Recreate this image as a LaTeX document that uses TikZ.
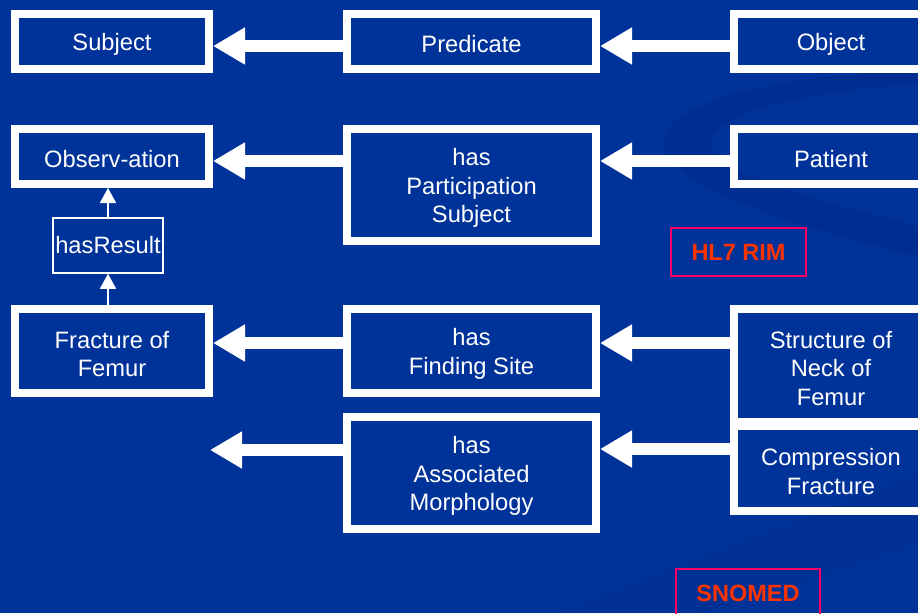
\documentclass[tikz,border=0pt]{standalone}
\usepackage{fontspec}
\setmainfont{Liberation Sans}
\usetikzlibrary{arrows.meta}
\definecolor{slidebg}{HTML}{003399}
\definecolor{swoosh}{HTML}{002C8A}
\definecolor{tagframe}{HTML}{FF0066}
\definecolor{tagtext}{HTML}{FF3300}
\begin{document}
\begin{tikzpicture}[x=1pt,y=-1pt,
  every node/.style={font=\fontsize{23.7}{28.5}\selectfont, text=white, align=center, inner sep=0pt},
  % white-framed term box; its caption sits a little below the geometric centre
  term/.style n args={3}{draw=white, line width=8pt, minimum width=#1, minimum height=#2,
                         label={[yshift=-3pt]center:{#3}}},
  relbox/.style={draw=white, line width=1.5pt, minimum width=110pt, minimum height=55pt},
  tag/.style={draw=tagframe, line width=2pt, text=tagtext, font=\fontsize{23.5}{28}\selectfont\bfseries,
              minimum width=135pt, minimum height=48pt},
  bigarrow/.style={white, line width=12pt, -{Triangle[length=32pt,width=35pt]}},
  thinarrow/.style={white, line width=1.5pt, -{Triangle[length=15pt,width=16pt]}}]

% slide background
\fill[slidebg] (0,0) rectangle (918,613);
\useasboundingbox (0,0) rectangle (918,613);

% faint swooshes on the right
\fill[swoosh, opacity=0.6]
  (930,70) .. controls (780,74) and (662,100) .. (664,145)
  .. controls (667,188) and (800,228) .. (930,260)
  -- (930,228) .. controls (810,200) and (704,170) .. (712,140)
  .. controls (722,108) and (830,88) .. (930,84) -- cycle;
\fill[swoosh, opacity=0.3]
  (560,613) -- (930,470) -- (930,540) -- (700,613) -- cycle;

% row levels for the block arrows
\coordinate (r1) at (0,46);
\coordinate (r2) at (0,161);
\coordinate (r3) at (0,343);
\coordinate (r4) at (0,450);
\coordinate (r5) at (0,449);

% triple header
\node[term={194pt}{55pt}{Subject}]   (subj) at (112,41.5) {};
\node[term={249pt}{55pt}{Predicate}] (pred) at (471.5,41.5) {};
\node[term={194pt}{55pt}{Object}]    (obj)  at (831,41.5) {};

% HL7 RIM part
\node[term={194pt}{55pt}{Observ-ation}] (obs) at (112,156.5) {};
\node[term={249pt}{112pt}{has\\Participation\\Subject}] (hps) at (471.5,185) {};
\node[term={194pt}{55pt}{Patient}] (pat) at (831,156.5) {};
\node[relbox] (res) at (108,245.5) {hasResult};
\node[tag] (hl7) at (738.5,252) {HL7 RIM};

% SNOMED part
\node[term={194pt}{84pt}{Fracture of\\Femur}] (frac) at (112,351) {};
\node[term={249pt}{84pt}{has\\Finding Site}]  (hfs)  at (471.5,351) {};
\node[term={194pt}{113pt}{Structure of\\Neck of\\Femur}] (snf) at (831,365.5) {};
\node[term={249pt}{112pt}{has\\Associated\\Morphology}] (ham) at (471.5,473) {};
\node[term={194pt}{85pt}{Compression\\Fracture}] (cf) at (831,468.5) {};
\node[tag, minimum width=144pt] (sno) at (748,593) {SNOMED};
\coordinate (loose) at (210,450);

% block arrows
\draw[bigarrow] (pred.west |- r1) -- (subj.east |- r1);
\draw[bigarrow] (obj.west |- r1)  -- (pred.east |- r1);
\draw[bigarrow] (hps.west |- r2)  -- (obs.east |- r2);
\draw[bigarrow] (pat.west |- r2)  -- (hps.east |- r2);
\draw[bigarrow] (hfs.west |- r3)  -- (frac.east |- r3);
\draw[bigarrow] (snf.west |- r3)  -- (hfs.east |- r3);
\draw[bigarrow] (ham.west |- r4)  -- (loose);
\draw[bigarrow] (cf.west |- r5)   -- (ham.east |- r5);

% hasResult link
\draw[thinarrow] (res.north) -- (obs.south -| res.north);
\draw[thinarrow] (frac.north -| res.south) -- (res.south);
\end{tikzpicture}
\end{document}
